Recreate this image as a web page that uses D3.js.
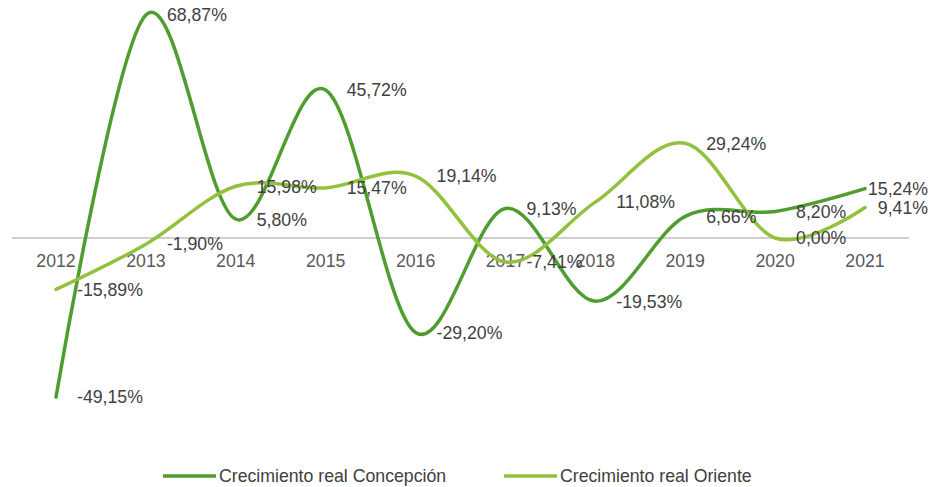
<!DOCTYPE html>
<html>
<head>
<meta charset="utf-8">
<script src="https://cdn.jsdelivr.net/npm/d3@7"></script>
<style>
  body { margin: 0; background: #fff; }
  text { font-family: "Liberation Sans", Arial, sans-serif; }
</style>
</head>
<body>
<div id="chart"></div>
<script>
/* Data */
const years = ["2012", "2013", "2014", "2015", "2016", "2017", "2018", "2019", "2020", "2021"]
const concepcion = [-49.15, 68.87, 5.80, 45.72, -29.20, 9.13, -19.53, 6.66, 8.20, 15.24]
const oriente = [-15.89, -1.90, 15.98, 15.47, 19.14, -7.41, 11.08, 29.24, 0.00, 9.41]
const seriesNames = ["Crecimiento real Concepción", "Crecimiento real Oriente"]
const colors = ["#4f9d2f", "#92c13e"]

/* Layout */
const W = 932, H = 487
const fontSize = "17.7px"
const rightEdge = 928

const svg = d3.select("#chart")
    .append("svg")
    .attr("width", W)
    .attr("height", H)

// Scales
const x = d3.scalePoint()
    .domain(years)
    .range([56, 865])

const y = d3.scaleLinear()
    .domain([0, 68.87])
    .range([238, 15])

// Zero line
svg.append("line")
    .attr("x1", 12)
    .attr("x2", 909)
    .attr("y1", y(0))
    .attr("y2", y(0))
    .style("stroke", "#bfbfbf")
    .style("stroke-width", "1.5px")

// Year labels (drawn under the series)
svg.append("g")
    .selectAll("text")
    .data(years)
    .enter()
    .append("text")
    .attr("x", d => x(d))
    .attr("y", y(0) + 28.5)
    .attr("text-anchor", "middle")
    .style("font-size", fontSize)
    .style("fill", "#595959")
    .text(d => d)

// Lines
const line = d3.line()
    .x((d, i) => x(years[i]))
    .y(d => y(d))
    .curve(d3.curveCatmullRom.alpha(0))

const allSeries = [concepcion, oriente]

svg.append("g")
    .selectAll("path")
    .data(allSeries)
    .enter()
    .append("path")
    .attr("d", d => line(d))
    .style("fill", "none")
    .style("stroke", (d, i) => colors[i])
    .style("stroke-width", "3.5px")
    .style("stroke-linecap", "round")

// Data labels, right of the point, kept inside the chart area
const fmt = v => v.toFixed(2).replace(".", ",") + "%"

allSeries.forEach(s => {
    svg.append("g")
        .selectAll("text")
        .data(s)
        .enter()
        .append("text")
        .attr("y", d => y(d) + 6.3)
        .style("font-size", fontSize)
        .style("fill", "#404040")
        .text(d => fmt(d))
        .each(function (d, i) {
            const w = this.getComputedTextLength()
            d3.select(this).attr("x", Math.min(x(years[i]) + 21, rightEdge - w))
        })
})

// Legend
const legendX = [163, 504]
const legend = svg.append("g")
    .selectAll("g")
    .data(seriesNames)
    .enter()
    .append("g")
    .attr("transform", (d, i) => "translate(" + legendX[i] + ",476)")

legend.append("line")
    .attr("x1", 0)
    .attr("x2", 53)
    .style("stroke", (d, i) => colors[i])
    .style("stroke-width", "3.5px")

legend.append("text")
    .attr("x", 56)
    .attr("y", 6.3)
    .style("font-size", fontSize)
    .style("fill", "#404040")
    .text(d => d)
</script>
</body>
</html>
